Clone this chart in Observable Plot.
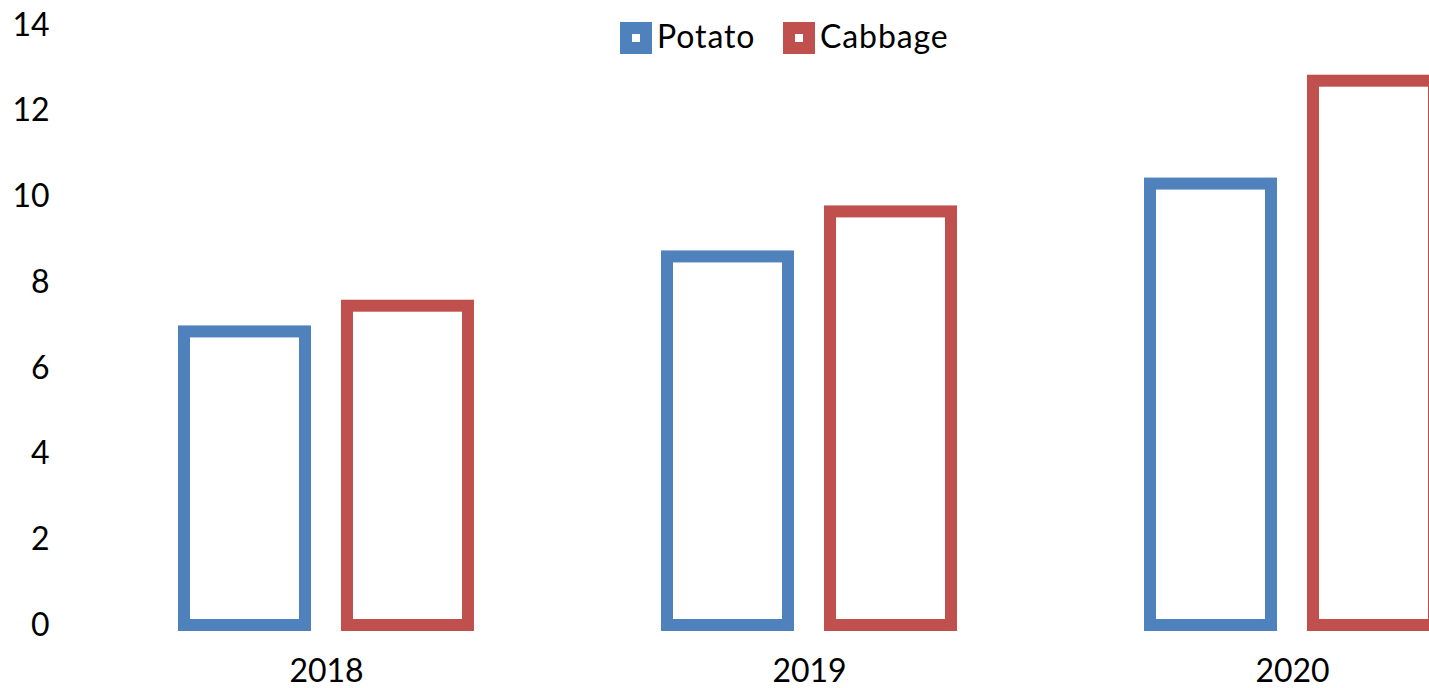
<!DOCTYPE html>
<html>
<head>
<meta charset="utf-8">
<script src="https://cdn.jsdelivr.net/npm/d3@7"></script>
<script src="https://cdn.jsdelivr.net/npm/@observablehq/plot@0.6"></script>
<style>
  html, body { margin: 0; padding: 0; background: #fff; overflow: hidden; }
  #wrap { position: relative; width: 1429px; height: 688px; overflow: hidden; }
  #wrap svg { max-width: none !important; display: block; }
  .leg-sw { position: absolute; width: 8px; height: 8px; border: 12px solid; background: #fff; }
  .leg-tx { position: absolute; font-family: Lato, "Open Sans", sans-serif; font-size: 32px; line-height: 32px; letter-spacing: 0.9px; color: #000; white-space: nowrap; }
</style>
</head>
<body>
<div id="wrap"></div>
<script>
const years = ["2018", "2019", "2020"];
const series = ["Potato", "Cabbage"];
const potato = [6.85, 8.6, 10.3];
const cabbage = [7.45, 9.65, 12.7];
const colors = ["#4F81BD", "#C0504D"];
const yTicks = [0, 2, 4, 6, 8, 10, 12, 14];

const data = [];
years.forEach((y, i) => {
  data.push({year: y, series: "Potato", value: potato[i]});
  data.push({year: y, series: "Cabbage", value: cabbage[i]});
});

const chart = Plot.plot({
  width: 1534,
  height: 688,
  marginLeft: 84.5,
  marginRight: 0.5,
  marginTop: 25,
  marginBottom: 63,
  style: {fontFamily: "Lato, 'Open Sans', sans-serif", fontSize: "32px", color: "#000", background: "#fff"},
  fx: {domain: years, paddingInner: 0, paddingOuter: 0, round: false, tickSize: 0, tickPadding: 34, label: null, axis: "bottom"},
  x: {domain: series, paddingInner: 0.2577, paddingOuter: 0.6104, round: false, axis: null},
  y: {domain: [0, 14], ticks: yTicks, tickSize: 0, tickPadding: 35.5, label: null},
  color: {domain: series, range: colors},
  marks: [
    Plot.barY(data, {fx: "year", x: "series", y: "value", stroke: "series", fill: "none", strokeWidth: 12})
  ]
});
const wrap = document.getElementById("wrap");
wrap.appendChild(chart);

// legend (HTML, overlaid at top)
const legPos = [{sw: 619.5, tx: 657}, {sw: 783, tx: 820}];
series.forEach((s, i) => {
  const sw = document.createElement("div");
  sw.className = "leg-sw";
  sw.style.left = legPos[i].sw + "px";
  sw.style.top = "22px";
  sw.style.borderColor = colors[i];
  wrap.appendChild(sw);
  const tx = document.createElement("div");
  tx.className = "leg-tx";
  tx.style.left = legPos[i].tx + "px";
  tx.style.top = "19.6px";
  tx.textContent = s;
  wrap.appendChild(tx);
});
</script>
</body>
</html>
